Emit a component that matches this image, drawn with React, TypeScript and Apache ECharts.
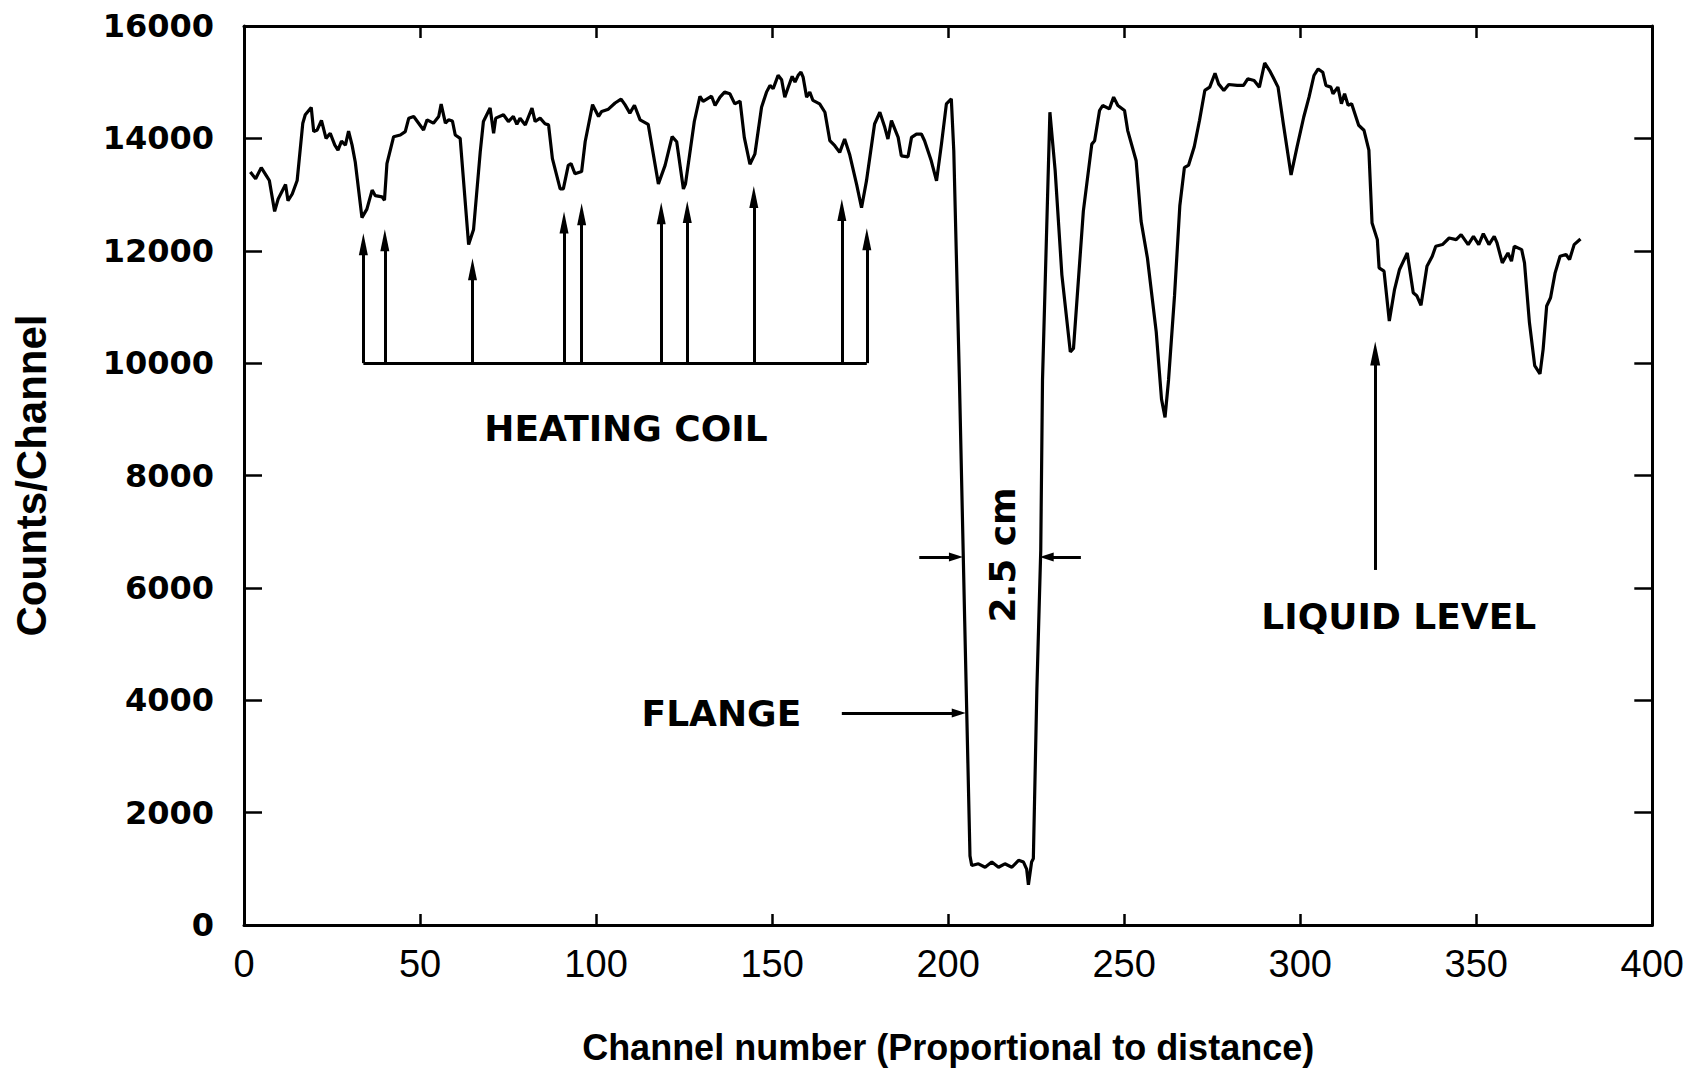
import React, { useEffect, useRef } from "react";
import * as echarts from "echarts";

const channels = [
  1.8, 3.3, 4.9, 6.6, 7.2, 8.7, 9.7, 11.8, 12.5, 13.7, 15.1, 16.7, 17.4, 19.1, 19.8, 20.8, 22.0, 23.3, 24.5, 25.8,
  26.7, 27.7, 28.8, 29.7, 30.7, 31.6, 33.5, 34.9, 36.4, 37.3, 39.2, 39.9, 40.6, 42.5, 44.4, 45.8, 46.8, 48.2, 49.6, 51.0,
  52.0, 53.8, 55.3, 56.0, 57.2, 58.1, 59.2, 60.0, 61.4, 63.8, 65.2, 67.1, 68.0, 69.9, 70.9, 71.5, 73.7, 75.1, 76.5, 77.5,
  78.4, 79.9, 81.8, 82.7, 84.1, 85.5, 86.5, 87.6, 89.8, 90.7, 92.1, 92.9, 94.0, 95.9, 96.9, 99.0, 100.7, 101.6, 103.5, 105.4,
  107.1, 108.2, 109.6, 110.9, 112.5, 114.8, 117.7, 119.6, 121.6, 122.9, 124.8, 125.4, 127.9, 129.5, 130.4, 132.8, 133.8, 135.2, 136.5, 138.0,
  139.4, 140.9, 142.1, 143.7, 145.1, 147.0, 148.4, 149.4, 150.3, 151.7, 152.7, 153.6, 154.6, 155.7, 156.5, 157.4, 158.2, 158.8, 159.8, 160.7,
  161.6, 163.5, 165.0, 166.4, 167.8, 169.2, 170.6, 172.0, 174.0, 175.4, 176.8, 179.1, 180.6, 182.0, 182.9, 183.9, 185.8, 186.7, 188.6, 189.6,
  191.0, 192.4, 193.3, 195.2, 196.7, 198.1, 199.5, 200.9, 201.6, 203.2, 204.7, 206.2, 206.7, 208.6, 210.5, 212.4, 214.3, 216.1, 218.1, 220.0,
  221.4, 222.3, 222.8, 223.7, 224.2, 225.2, 226.3, 226.8, 228.9, 230.4, 232.3, 234.7, 235.6, 238.4, 240.8, 241.6, 243.0, 243.9, 245.8, 247.0,
  248.2, 250.1, 251.0, 253.4, 254.8, 256.6, 259.1, 260.6, 261.6, 262.6, 264.3, 265.8, 267.1, 268.3, 269.9, 271.4, 272.9, 274.3, 275.8, 276.8,
  278.3, 279.7, 282.1, 283.9, 285.1, 286.9, 288.4, 289.9, 291.3, 292.3, 293.7, 295.2, 297.4, 299.1, 301.0, 302.5, 303.9, 305.1, 306.4, 307.3,
  308.7, 309.3, 310.7, 311.7, 312.6, 313.6, 314.6, 316.6, 318.1, 319.5, 320.4, 321.9, 322.4, 323.8, 325.3, 326.8, 328.2, 330.4, 332.1, 333.1,
  334.3, 336.0, 337.5, 338.5, 340.4, 342.3, 344.3, 345.7, 347.7, 349.2, 350.7, 352.0, 353.6, 355.1, 355.9, 357.4, 359.0, 360.0, 360.8, 362.9,
  363.7, 365.1, 366.6, 368.1, 369.0, 370.0, 371.1, 372.4, 373.8, 375.5, 376.5, 377.8, 379.6,
];

const counts = [
  13400, 13280, 13480, 13310, 13250, 12700, 12920, 13180, 12890, 13010, 13250, 14270, 14420, 14550, 14120, 14150, 14320, 14000, 14090, 13880,
  13790, 13950, 13880, 14130, 13880, 13580, 12590, 12740, 13080, 12980, 12960, 12900, 13550, 14030, 14060, 14120, 14360, 14390, 14270, 14150,
  14330, 14270, 14390, 14610, 14270, 14330, 14310, 14060, 14000, 12110, 12380, 13760, 14300, 14540, 14090, 14360, 14420, 14300, 14390, 14250,
  14360, 14240, 14540, 14300, 14360, 14260, 14240, 13640, 13100, 13100, 13520, 13550, 13370, 13410, 13940, 14600, 14390, 14480, 14520, 14630,
  14700, 14600, 14450, 14590, 14330, 14250, 13190, 13520, 14030, 13940, 13100, 13190, 14300, 14750, 14660, 14750, 14585, 14734, 14823, 14793,
  14614, 14662, 14018, 13540, 13719, 14555, 14823, 14943, 14883, 15122, 15044, 14734, 14913, 15104, 15002, 15122, 15181, 15092, 14734, 14823,
  14675, 14614, 14465, 13959, 13869, 13750, 13988, 13719, 13182, 12765, 13243, 14256, 14465, 14197, 13988, 14317, 14018, 13690, 13672, 14018,
  14077, 14077, 13958, 13601, 13243, 13898, 14614, 14703, 13780, 9700, 5410, 1230, 1058, 1089, 1028, 1120, 1028, 1089, 1028, 1152,
  1120, 995, 716, 1120, 1183, 4200, 6670, 9700, 14465, 13422, 11571, 10200, 10260, 12706, 13898, 13958, 14496, 14585, 14525, 14734,
  14585, 14496, 14138, 13601, 12527, 11870, 10557, 9359, 9034, 9700, 11200, 12800, 13480, 13525, 13850, 14322, 14853, 14912, 15160, 14970,
  14853, 14959, 14942, 14942, 15060, 15030, 14912, 15342, 15207, 15089, 14912, 14262, 13349, 13850, 14380, 14734, 15119, 15236, 15177, 14942,
  14912, 14793, 14912, 14616, 14793, 14588, 14616, 14234, 14145, 13791, 12492, 12198, 11694, 11636, 10750, 11313, 11667, 11960, 11254, 11200,
  11030, 11725, 11903, 12080, 12110, 12227, 12198, 12287, 12110, 12257, 12110, 12305, 12110, 12257, 12138, 11784, 11961, 11814, 12080, 12020,
  11784, 10722, 9956, 9808, 10250, 11017, 11164, 11607, 11903, 11933, 11844, 12109, 12210,
];

// Heating-coil arrows: channel and arrow tip (counts); common base line at 10000
const coilArrowX = [33.9, 40.0, 64.9, 90.9, 95.9, 118.5, 125.9, 144.8, 169.8, 176.9];
const coilArrowTip = [12311, 12382, 11866, 12697, 12846, 12864, 12887, 13154, 12921, 12401];
const coilBase = 10000;

// Annotation texts
const noteText = ["HEATING COIL", "FLANGE", "2.5 cm", "LIQUID LEVEL"];
const noteX = [108.5, 135.6, 215.5, 328.0];
const noteY = [8841, 3768, 6586, 5488];
const noteRotate = [0, 0, 90, 0];

// Other arrows: [x1, y1, x2(tip), y2(tip)]
const flangeArrow = [169.8, 3774, 205.0, 3774];
const widthArrowLeft = [191.8, 6550, 204.2, 6550];
const widthArrowRight = [237.7, 6550, 226.0, 6550];
const liquidArrow = [321.3, 6319, 321.3, 10383];

const xTicks = { min: 0, max: 400, interval: 50 };
const yTicks = { min: 0, max: 16000, interval: 2000 };

export default function App() {
  const ref = useRef<HTMLDivElement>(null);

  useEffect(() => {
    if (!ref.current) return;
    const chart = echarts.init(ref.current, undefined, { renderer: "svg" });

    const curve = channels.map((c, i) => [c, counts[i]]);

    const PXX = (1687 - 244 - 32) / 400;
    const PXY = 899 / 16000;

    const arrowLine = (a: number[], headW: number, headH: number) => {
      // move the head's centre back so that its tip lands on the target point
      const dx = a[2] - a[0];
      const dy = a[3] - a[1];
      const lenPx = Math.hypot(dx * PXX, dy * PXY);
      const back = headH / 2 / lenPx;
      return [
        { coord: [a[0], a[1]], symbol: "none" },
        {
          coord: [a[2] - dx * back, a[3] - dy * back],
          symbol: "triangle",
          symbolSize: [headW, headH],
        },
      ];
    };

    const markLines: any[] = [];
    coilArrowX.forEach((x, i) => {
      markLines.push(arrowLine([x, coilBase, x, coilArrowTip[i]], 9, 22));
    });
    markLines.push([
      { coord: [coilArrowX[0], coilBase], symbol: "none" },
      { coord: [coilArrowX[coilArrowX.length - 1], coilBase], symbol: "none" },
    ]);
    markLines.push(arrowLine(flangeArrow, 9, 14));
    markLines.push(arrowLine(widthArrowLeft, 9, 14));
    markLines.push(arrowLine(widthArrowRight, 9, 14));
    markLines.push(arrowLine(liquidArrow, 10, 24));

    const axisLine = { show: true, onZero: false, lineStyle: { color: "#000", width: 3 } };

    const option: any = {
      animation: false,
      backgroundColor: "#fff",
      grid: { left: 244, right: 32, top: 26, bottom: 148, containLabel: false },
      xAxis: [
        {
          type: "value",
          ...xTicks,
          position: "bottom",
          axisLine,
          axisTick: { show: true, inside: true, length: 11, lineStyle: { color: "#000", width: 2.5 } },
          splitLine: { show: false },
          axisLabel: {
            color: "#000",
            fontFamily: "Liberation Sans",
            fontSize: 38,
            margin: 20,
          },
          name: "Channel number (Proportional to distance)",
          nameLocation: "middle",
          nameGap: 104,
          nameTextStyle: {
            color: "#000",
            fontFamily: "Liberation Sans",
            fontWeight: "bold",
            fontSize: 36,
          },
        },
        {
          type: "value",
          ...xTicks,
          position: "top",
          axisLine,
          axisTick: { show: true, inside: true, length: 12, lineStyle: { color: "#000", width: 2.5 } },
          splitLine: { show: false },
          axisLabel: { show: false },
        },
      ],
      yAxis: [
        {
          type: "value",
          ...yTicks,
          position: "left",
          axisLine,
          axisTick: { show: true, inside: true, length: 18, lineStyle: { color: "#000", width: 2.5 } },
          splitLine: { show: false },
          axisLabel: {
            color: "#000",
            fontFamily: "DejaVu Sans",
            fontWeight: "bold",
            fontSize: 32,
            margin: 30,
            formatter: (v: number) => String(v),
          },
          name: "Counts/Channel",
          nameLocation: "middle",
          nameGap: 192,
          nameTextStyle: {
            color: "#000",
            fontFamily: "Liberation Sans",
            fontWeight: "bold",
            fontSize: 42,
          },
        },
        {
          type: "value",
          ...yTicks,
          position: "right",
          axisLine,
          axisTick: { show: true, inside: true, length: 18, lineStyle: { color: "#000", width: 2.5 } },
          splitLine: { show: false },
          axisLabel: { show: false },
        },
      ],
      series: [
        {
          type: "line",
          data: curve,
          showSymbol: false,
          symbol: "none",
          lineStyle: { color: "#000", width: 3.2 },
          itemStyle: { color: "#000" },
          silent: true,
          markLine: {
            silent: true,
            label: { show: false },
            lineStyle: { color: "#000", width: 3, type: "solid" },
            itemStyle: { color: "#000" },
            emphasis: { disabled: true },
            data: markLines,
          },
        },
        {
          type: "scatter",
          symbolSize: 0,
          silent: true,
          itemStyle: { color: "#000", opacity: 1 },
          data: noteText.map((t, i) => ({
            value: [noteX[i], noteY[i]],
            label: {
              show: true,
              formatter: t,
              position: [0, 0],
              align: "center",
              verticalAlign: "middle",
              rotate: noteRotate[i],
              color: "#000",
              opacity: 1,
              fontFamily: "DejaVu Sans",
              fontWeight: "bold",
              fontSize: 36,
            },
          })),
        },
      ],
    };

    chart.setOption(option);
    return () => chart.dispose();
  }, []);

  return (
    <div
      ref={ref}
      style={{ position: "absolute", left: 0, top: 0, width: 1687, height: 1073, background: "#fff" }}
    />
  );
}
